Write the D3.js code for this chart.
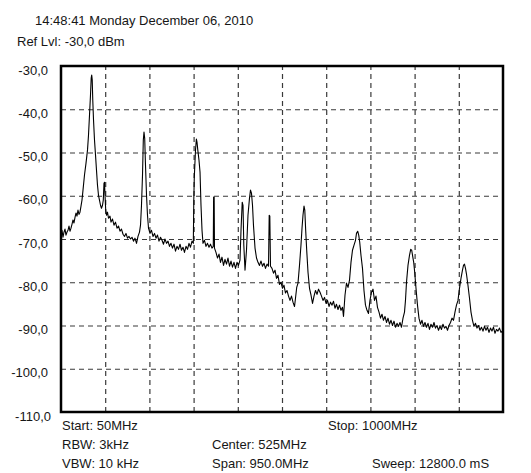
<!DOCTYPE html>
<html><head><meta charset="utf-8">
<script src="https://cdn.jsdelivr.net/npm/d3@7/dist/d3.min.js"></script>
<style>
body{margin:0;background:#fff}
text{font-family:"Liberation Sans",Arial,sans-serif;font-size:13px;fill:#161616}
</style>
</head><body>
<svg id="chart" width="531" height="473"></svg>
<script>
// ---- data ----
const headerLines = ["14:48:41 Monday December 06, 2010", "Ref Lvl: -30,0 dBm"];
const yTickValues = [-30, -40, -50, -60, -70, -80, -90, -100, -110];
const xGridMHz = [145, 240, 335, 430, 525, 620, 715, 810, 905];
const footerLeft = ["Start: 50MHz", "RBW: 3kHz", "VBW: 10 kHz"];
const footerMid = ["Center: 525MHz", "Span: 950.0MHz"];
const footerRight = ["Stop: 1000MHz", "Sweep: 12800.0 mS"];
const freqDomainMHz = [50, 1000];
const levelDomainDbm = [-110, -30];

// [frequency MHz, level dBm]
const trace = [
[50.0,-68.7],[52.1,-68.0],[54.3,-69.6],[56.4,-68.4],[58.6,-67.7],[60.7,-69.1],[62.9,-68.4],[65.0,-68.0],
[67.2,-67.0],[69.3,-68.2],[71.5,-67.5],[73.6,-66.6],[75.8,-65.6],[77.9,-66.3],[80.1,-65.0],[82.2,-64.0],
[84.4,-64.7],[86.5,-63.3],[88.7,-64.3],[90.8,-63.8],[93.0,-62.4],[95.1,-61.0],[97.3,-58.7],[100.5,-55.2],
[103.7,-52.5],[107.0,-49.4],[109.1,-46.0],[111.3,-41.3],[113.4,-36.7],[114.9,-32.8],[116.0,-32.1],[117.1,-33.2],
[118.3,-37.9],[119.9,-42.5],[122.0,-47.1],[124.2,-50.6],[126.3,-54.1],[128.4,-57.5],[130.6,-59.9],[132.7,-61.0],
[134.9,-62.2],[137.0,-62.9],[139.2,-62.2],[140.9,-61.0],[142.4,-57.1],[143.5,-56.9],[144.6,-59.9],[146.1,-63.3],
[147.8,-64.5],[149.9,-63.8],[152.1,-65.2],[155.3,-64.7],[157.5,-66.1],[160.7,-65.4],[163.9,-66.8],[167.1,-66.1],
[170.4,-67.5],[173.6,-67.0],[176.8,-68.2],[180.0,-67.7],[183.3,-68.9],[186.5,-69.4],[189.7,-68.7],[192.9,-69.8],
[196.2,-69.4],[199.4,-70.0],[202.6,-69.6],[205.8,-70.5],[209.0,-69.8],[212.3,-71.0],[215.5,-69.4],[218.7,-68.4],
[220.9,-66.8],[223.0,-62.2],[225.2,-55.2],[226.9,-47.1],[228.4,-45.3],[229.9,-46.7],[231.6,-52.9],[233.8,-59.9],
[235.9,-64.5],[238.1,-67.5],[241.3,-68.7],[244.5,-68.0],[247.7,-69.4],[251.0,-68.7],[254.2,-69.8],[257.4,-69.1],
[260.6,-70.5],[263.9,-69.6],[267.1,-70.3],[270.3,-71.2],[273.5,-70.0],[276.8,-71.0],[280.0,-70.5],[283.2,-71.7],
[286.4,-71.0],[289.6,-72.1],[292.9,-71.2],[296.1,-72.8],[299.3,-71.7],[302.5,-72.4],[305.8,-71.2],[309.0,-72.6],
[312.2,-71.9],[315.4,-73.1],[318.7,-71.7],[321.9,-72.4],[325.1,-71.0],[328.3,-71.9],[331.6,-70.5],[334.4,-71.0],
[335.4,-61.0],[336.5,-55.7],[339.1,-49.4],[341.0,-46.9],[342.3,-47.6],[344.0,-49.4],[346.6,-51.8],[348.8,-54.5],
[350.9,-62.2],[353.1,-68.0],[355.2,-71.0],[358.4,-70.3],[361.6,-71.7],[364.9,-71.0],[368.1,-71.9],[371.3,-71.2],
[374.5,-72.1],[377.3,-71.7],[378.0,-60.3],[379.2,-60.3],[379.9,-72.1],[383.1,-73.1],[386.4,-74.4],[389.6,-73.5],
[392.8,-75.4],[396.0,-74.2],[399.3,-76.1],[402.5,-74.7],[405.7,-75.8],[408.9,-74.4],[412.2,-76.3],[415.4,-75.1],
[418.6,-76.5],[421.8,-75.4],[425.1,-76.8],[428.3,-75.4],[431.5,-76.1],[434.7,-74.9],[436.9,-68.0],[439.5,-61.5],
[441.2,-62.2],[442.9,-71.4],[445.5,-77.2],[448.7,-72.6],[451.9,-64.5],[455.1,-60.6],[457.3,-58.7],[459.4,-59.4],
[461.6,-62.2],[463.7,-66.8],[467.0,-72.1],[470.2,-74.4],[473.4,-75.4],[476.6,-76.1],[479.9,-75.1],[483.1,-76.3],
[486.3,-75.6],[489.5,-76.8],[492.8,-75.8],[496.0,-76.3],[497.5,-64.5],[498.8,-64.7],[500.3,-76.3],[503.5,-76.8],
[506.7,-77.9],[510.0,-77.2],[513.2,-79.1],[516.4,-78.4],[519.6,-80.5],[522.8,-80.0],[526.1,-81.4],[529.3,-80.7],
[532.5,-82.5],[535.7,-81.9],[539.0,-83.2],[542.2,-84.2],[545.4,-83.2],[548.6,-84.6],[551.9,-85.6],[554.0,-83.7],
[556.6,-81.2],[559.4,-80.2],[562.6,-76.1],[565.8,-71.4],[568.0,-67.5],[570.1,-64.5],[572.3,-62.4],[574.0,-63.3],
[575.9,-68.0],[578.1,-72.6],[580.9,-77.7],[584.1,-81.4],[587.4,-83.0],[590.6,-84.9],[593.8,-83.2],[597.0,-81.9],
[600.3,-82.8],[603.5,-81.6],[606.7,-82.3],[609.9,-83.2],[613.1,-84.2],[616.4,-83.5],[619.6,-84.9],[622.8,-84.2],
[626.0,-85.6],[629.3,-84.6],[632.5,-85.3],[635.7,-84.4],[638.9,-86.0],[642.1,-85.1],[645.4,-86.3],[648.6,-85.3],
[651.8,-86.5],[655.0,-85.8],[657.2,-87.9],[660.4,-83.0],[663.6,-80.2],[666.9,-81.2],[670.1,-79.5],[673.3,-75.4],
[676.5,-72.6],[679.8,-71.4],[683.0,-70.3],[685.1,-68.7],[687.7,-68.2],[689.9,-69.1],[692.0,-70.7],[694.8,-73.8],
[698.0,-76.8],[701.2,-81.9],[704.4,-85.3],[707.7,-86.5],[710.9,-87.2],[714.1,-84.2],[717.3,-82.3],[720.6,-81.6],
[723.8,-84.2],[727.0,-83.2],[730.2,-85.8],[733.5,-86.9],[736.7,-88.3],[739.9,-87.4],[743.1,-88.8],[746.4,-87.9],
[749.6,-89.3],[752.8,-88.3],[756.0,-89.7],[759.3,-88.8],[762.5,-90.0],[765.7,-89.0],[768.9,-90.4],[772.2,-89.5],
[775.4,-90.2],[778.6,-89.3],[781.8,-90.4],[785.1,-88.3],[788.3,-86.9],[790.4,-84.2],[792.6,-80.0],[795.8,-76.1],
[799.0,-73.8],[801.6,-72.4],[803.8,-72.6],[805.9,-74.0],[808.1,-75.4],[810.2,-77.7],[813.0,-81.4],[816.2,-85.3],
[819.4,-88.3],[822.7,-89.7],[825.9,-88.8],[829.1,-90.2],[832.3,-89.3],[835.6,-90.4],[838.8,-89.5],[842.0,-90.9],
[845.2,-89.7],[848.5,-90.4],[851.7,-89.3],[854.9,-90.6],[858.1,-90.0],[861.4,-91.1],[864.6,-90.2],[867.8,-90.9],
[871.0,-89.7],[874.3,-90.6],[877.5,-90.2],[880.7,-91.1],[883.9,-90.0],[887.2,-89.3],[890.4,-88.3],[893.6,-88.8],
[896.8,-86.9],[900.0,-85.3],[903.3,-84.2],[906.5,-81.4],[909.7,-79.1],[912.9,-77.2],[915.1,-76.1],[917.2,-75.8],
[919.4,-76.8],[921.5,-78.1],[924.7,-80.7],[928.0,-83.7],[931.2,-86.9],[934.4,-88.8],[937.6,-90.2],[940.9,-89.5],
[944.1,-90.6],[947.3,-90.0],[950.5,-91.1],[953.7,-90.4],[957.0,-91.3],[960.2,-90.2],[963.4,-91.1],[966.6,-90.4],
[969.9,-91.6],[973.1,-90.6],[976.3,-91.3],[979.5,-90.4],[982.8,-91.8],[986.0,-90.9],[989.2,-91.3],[992.4,-90.6],
[995.7,-91.6],[1000.0,-91.1]
];

// ---- layout ----
const svg = d3.select("#chart");
const plot = {left: 61, top: 66, right: 503, bottom: 412};
const x = d3.scaleLinear().domain(freqDomainMHz).range([plot.left, plot.right]);
const y = d3.scaleLinear().domain(levelDomainDbm).range([plot.bottom, plot.top]);

svg.append("rect").attr("width", 531).attr("height", 473).attr("fill", "#fff");

// header
svg.append("text").attr("x", 35).attr("y", 25).text(headerLines[0]);
svg.append("text").attr("x", 17).attr("y", 46).text(headerLines[1]);

// horizontal dashed grid (via axis)
const yGrid = svg.append("g").attr("transform", `translate(${plot.left},0)`)
  .call(d3.axisLeft(y).tickValues(yTickValues.filter(v => v > -110 && v < -30))
        .tickSize(-(plot.right - plot.left)).tickFormat(""));
yGrid.select(".domain").remove();
yGrid.selectAll(".tick line").attr("stroke", "#3a3a3a").attr("stroke-width", 1.2).attr("stroke-dasharray", "5,4");

// vertical dashed grid (via axis)
const xGrid = svg.append("g").attr("transform", `translate(0,${plot.bottom})`)
  .call(d3.axisBottom(x).tickValues(xGridMHz).tickSize(-(plot.bottom - plot.top)).tickFormat(""));
xGrid.select(".domain").remove();
xGrid.selectAll(".tick line").attr("stroke", "#3a3a3a").attr("stroke-width", 1.2).attr("stroke-dasharray", "5,4");

// y labels
const fmt = v => d3.format(".1f")(v).replace("−", "-").replace(".", ",");
const yAxis = svg.append("g").attr("transform", `translate(48,0)`)
  .call(d3.axisLeft(y).tickValues(yTickValues).tickSize(0).tickPadding(0).tickFormat(fmt));
yAxis.select(".domain").remove();
yAxis.selectAll(".tick text")
  .attr("font-family", '"Liberation Sans",Arial,sans-serif').attr("font-size", 13)
  .attr("fill", "#161616").attr("dy", "0.62em");
yAxis.selectAll(".tick").filter(d => d === -110).select("text").attr("x", 3);

// trace
const line = d3.line().x(d => x(d[0])).y(d => y(d[1]));
svg.append("path").datum(trace).attr("d", line)
  .attr("fill", "none").attr("stroke", "#000").attr("stroke-width", 1.1).attr("stroke-linejoin", "round");

// frame
svg.append("rect").attr("x", plot.left).attr("y", plot.top)
  .attr("width", plot.right - plot.left).attr("height", plot.bottom - plot.top)
  .attr("fill", "none").attr("stroke", "#000").attr("stroke-width", 2.5);

// footer
const rowY = [430, 449, 468];
footerLeft.forEach((t, i) => svg.append("text").attr("x", 62).attr("y", rowY[i]).text(t));
footerMid.forEach((t, i) => svg.append("text").attr("x", 212).attr("y", rowY[i + 1]).text(t));
svg.append("text").attr("x", 328).attr("y", rowY[0]).text(footerRight[0]);
svg.append("text").attr("x", 372).attr("y", rowY[2]).text(footerRight[1]);
</script>
</body></html>
